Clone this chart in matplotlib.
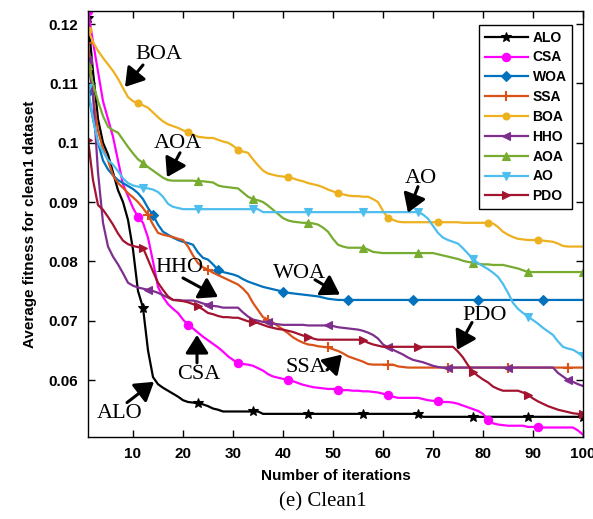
import matplotlib
matplotlib.use("Agg")
import numpy as np
from matplotlib import pyplot as plt
from matplotlib.ticker import FormatStrFormatter

plt.rcParams['font.family'] = ['Liberation Sans', 'DejaVu Sans']

iterations = np.arange(1, 101)

# average fitness per iteration
alo = [0.1210, 0.1120, 0.1040, 0.1000, 0.0980, 0.0950, 0.0920, 0.0900, 0.0870, 0.0820,
       0.0750, 0.0722, 0.0650, 0.0605, 0.0593, 0.0587, 0.0582, 0.0577, 0.0572, 0.0566,
       0.0563, 0.0562, 0.0561, 0.0559, 0.0556, 0.0552, 0.0550, 0.0547, 0.0547, 0.0547,
       0.0547, 0.0547, 0.0547, 0.0547, 0.0547, 0.0543, 0.0543, 0.0543, 0.0543, 0.0543,
       0.0543, 0.0543, 0.0543, 0.0543, 0.0543, 0.0543, 0.0543, 0.0543, 0.0543, 0.0543,
       0.0543, 0.0543, 0.0543, 0.0543, 0.0543, 0.0543, 0.0543, 0.0543, 0.0543, 0.0543,
       0.0543, 0.0543, 0.0543, 0.0543, 0.0543, 0.0543, 0.0543, 0.0538, 0.0538, 0.0538,
       0.0538, 0.0538, 0.0538, 0.0538, 0.0538, 0.0538, 0.0538, 0.0538, 0.0538, 0.0538,
       0.0538, 0.0538, 0.0538, 0.0538, 0.0538, 0.0538, 0.0538, 0.0538, 0.0538, 0.0538,
       0.0538, 0.0538, 0.0538, 0.0538, 0.0538, 0.0538, 0.0538, 0.0538, 0.0538, 0.0538]

csa = [0.1222, 0.1170, 0.1120, 0.1070, 0.1040, 0.1010, 0.0970, 0.0930, 0.0910, 0.0890,
       0.0875, 0.0865, 0.0840, 0.0800, 0.0757, 0.0740, 0.0728, 0.0720, 0.0713, 0.0702,
       0.0693, 0.0687, 0.0680, 0.0673, 0.0667, 0.0661, 0.0655, 0.0648, 0.0640, 0.0634,
       0.0629, 0.0627, 0.0626, 0.0624, 0.0620, 0.0616, 0.0610, 0.0606, 0.0604, 0.0602,
       0.0600, 0.0598, 0.0595, 0.0592, 0.0590, 0.0588, 0.0587, 0.0586, 0.0585, 0.0585,
       0.0584, 0.0583, 0.0583, 0.0582, 0.0582, 0.0581, 0.0581, 0.0580, 0.0579, 0.0577,
       0.0574, 0.0572, 0.0570, 0.0570, 0.0570, 0.0570, 0.0570, 0.0568, 0.0566, 0.0565,
       0.0564, 0.0563, 0.0563, 0.0562, 0.0560, 0.0557, 0.0554, 0.0551, 0.0548, 0.0543,
       0.0533, 0.0527, 0.0525, 0.0524, 0.0523, 0.0523, 0.0523, 0.0523, 0.0521, 0.0521,
       0.0521, 0.0520, 0.0520, 0.0520, 0.0520, 0.0520, 0.0520, 0.0520, 0.0515, 0.0508]

woa = [0.1085, 0.1040, 0.1000, 0.0970, 0.0955, 0.0945, 0.0937, 0.0932, 0.0927, 0.0922,
       0.0915, 0.0905, 0.0890, 0.0878, 0.0862, 0.0850, 0.0845, 0.0840, 0.0836, 0.0833,
       0.0831, 0.0828, 0.0815, 0.0806, 0.0803, 0.0795, 0.0786, 0.0782, 0.0780, 0.0778,
       0.0775, 0.0770, 0.0766, 0.0763, 0.0760, 0.0757, 0.0755, 0.0753, 0.0751, 0.0749,
       0.0747, 0.0746, 0.0745, 0.0744, 0.0743, 0.0742, 0.0741, 0.0739, 0.0737, 0.0736,
       0.0735, 0.0735, 0.0735, 0.0735, 0.0735, 0.0735, 0.0735, 0.0735, 0.0735, 0.0735,
       0.0735, 0.0735, 0.0735, 0.0735, 0.0735, 0.0735, 0.0735, 0.0735, 0.0735, 0.0735,
       0.0735, 0.0735, 0.0735, 0.0735, 0.0735, 0.0735, 0.0735, 0.0735, 0.0735, 0.0735,
       0.0735, 0.0735, 0.0735, 0.0735, 0.0735, 0.0735, 0.0735, 0.0735, 0.0735, 0.0735,
       0.0735, 0.0735, 0.0735, 0.0735, 0.0735, 0.0735, 0.0735, 0.0735, 0.0735, 0.0735]

ssa = [0.1168, 0.1080, 0.1020, 0.0990, 0.0970, 0.0945, 0.0932, 0.0924, 0.0915, 0.0908,
       0.0900, 0.0890, 0.0878, 0.0862, 0.0848, 0.0845, 0.0843, 0.0841, 0.0838, 0.0836,
       0.0825, 0.0810, 0.0797, 0.0790, 0.0786, 0.0781, 0.0777, 0.0773, 0.0769, 0.0765,
       0.0761, 0.0754, 0.0745, 0.0730, 0.0718, 0.0706, 0.0702, 0.0697, 0.0691, 0.0685,
       0.0679, 0.0672, 0.0667, 0.0663, 0.0660, 0.0659, 0.0657, 0.0656, 0.0655, 0.0652,
       0.0649, 0.0645, 0.0640, 0.0637, 0.0634, 0.0631, 0.0627, 0.0626, 0.0626, 0.0626,
       0.0626, 0.0626, 0.0623, 0.0622, 0.0621, 0.0621, 0.0621, 0.0621, 0.0621, 0.0621,
       0.0621, 0.0621, 0.0621, 0.0621, 0.0621, 0.0621, 0.0621, 0.0621, 0.0621, 0.0621,
       0.0621, 0.0621, 0.0621, 0.0621, 0.0621, 0.0621, 0.0621, 0.0621, 0.0621, 0.0621,
       0.0621, 0.0621, 0.0621, 0.0621, 0.0621, 0.0621, 0.0621, 0.0621, 0.0621, 0.0621]

boa = [0.1190, 0.1170, 0.1155, 0.1143, 0.1132, 0.1121, 0.1108, 0.1092, 0.1077, 0.1070,
       0.1067, 0.1063, 0.1059, 0.1051, 0.1043, 0.1036, 0.1031, 0.1028, 0.1025, 0.1021,
       0.1018, 0.1014, 0.1010, 0.1009, 0.1008, 0.1008, 0.1005, 0.1002, 0.1000, 0.0995,
       0.0988, 0.0985, 0.0983, 0.0972, 0.0962, 0.0953, 0.0948, 0.0946, 0.0944, 0.0943,
       0.0942, 0.0940, 0.0937, 0.0935, 0.0932, 0.0930, 0.0928, 0.0925, 0.0921, 0.0918,
       0.0915, 0.0913, 0.0911, 0.0910, 0.0910, 0.0909, 0.0909, 0.0905, 0.0900, 0.0885,
       0.0873, 0.0870, 0.0867, 0.0866, 0.0866, 0.0866, 0.0866, 0.0866, 0.0866, 0.0866,
       0.0866, 0.0866, 0.0866, 0.0866, 0.0866, 0.0865, 0.0865, 0.0865, 0.0865, 0.0865,
       0.0865, 0.0864, 0.0858, 0.0850, 0.0845, 0.0841, 0.0838, 0.0837, 0.0836, 0.0836,
       0.0836, 0.0835, 0.0834, 0.0833, 0.0830, 0.0826, 0.0825, 0.0825, 0.0825, 0.0825]

hho = [0.1140, 0.1080, 0.0950, 0.0865, 0.0825, 0.0808, 0.0795, 0.0780, 0.0764, 0.0759,
       0.0756, 0.0754, 0.0752, 0.0750, 0.0747, 0.0743, 0.0739, 0.0735, 0.0735, 0.0734,
       0.0734, 0.0734, 0.0732, 0.0729, 0.0727, 0.0725, 0.0724, 0.0722, 0.0722, 0.0722,
       0.0722, 0.0714, 0.0707, 0.0702, 0.0700, 0.0698, 0.0697, 0.0695, 0.0694, 0.0693,
       0.0693, 0.0693, 0.0693, 0.0693, 0.0692, 0.0692, 0.0692, 0.0692, 0.0692, 0.0691,
       0.0689, 0.0688, 0.0687, 0.0686, 0.0685, 0.0683, 0.0680, 0.0676, 0.0670, 0.0660,
       0.0655, 0.0651, 0.0647, 0.0643, 0.0638, 0.0634, 0.0632, 0.0630, 0.0627, 0.0624,
       0.0622, 0.0621, 0.0621, 0.0621, 0.0621, 0.0621, 0.0621, 0.0621, 0.0621, 0.0621,
       0.0621, 0.0621, 0.0621, 0.0621, 0.0621, 0.0621, 0.0621, 0.0621, 0.0621, 0.0621,
       0.0621, 0.0621, 0.0621, 0.0621, 0.0612, 0.0606, 0.0600, 0.0597, 0.0593, 0.0590]

aoa = [0.1131, 0.1100, 0.1070, 0.1045, 0.1027, 0.1021, 0.1017, 0.1005, 0.0993, 0.0982,
       0.0972, 0.0966, 0.0959, 0.0953, 0.0947, 0.0941, 0.0937, 0.0936, 0.0936, 0.0936,
       0.0936, 0.0936, 0.0935, 0.0935, 0.0934, 0.0933, 0.0928, 0.0926, 0.0925, 0.0924,
       0.0923, 0.0916, 0.0909, 0.0905, 0.0903, 0.0900, 0.0894, 0.0887, 0.0880, 0.0873,
       0.0869, 0.0867, 0.0866, 0.0865, 0.0865, 0.0864, 0.0862, 0.0857, 0.0850, 0.0838,
       0.0828, 0.0825, 0.0823, 0.0823, 0.0823, 0.0823, 0.0820, 0.0816, 0.0815, 0.0814,
       0.0814, 0.0814, 0.0814, 0.0814, 0.0814, 0.0814, 0.0814, 0.0814, 0.0814, 0.0814,
       0.0812, 0.0810, 0.0808, 0.0806, 0.0804, 0.0801, 0.0799, 0.0798, 0.0796, 0.0795,
       0.0795, 0.0794, 0.0794, 0.0794, 0.0792, 0.0790, 0.0788, 0.0785, 0.0782, 0.0782,
       0.0782, 0.0782, 0.0782, 0.0782, 0.0782, 0.0782, 0.0782, 0.0782, 0.0782, 0.0782]

ao = [0.1092, 0.1040, 0.1000, 0.0985, 0.0971, 0.0963, 0.0952, 0.0940, 0.0932, 0.0928,
      0.0926, 0.0924, 0.0923, 0.0921, 0.0917, 0.0909, 0.0897, 0.0892, 0.0890, 0.0888,
      0.0888, 0.0888, 0.0888, 0.0888, 0.0888, 0.0888, 0.0888, 0.0888, 0.0888, 0.0888,
      0.0888, 0.0888, 0.0888, 0.0888, 0.0888, 0.0883, 0.0883, 0.0883, 0.0883, 0.0883,
      0.0883, 0.0883, 0.0883, 0.0883, 0.0883, 0.0883, 0.0883, 0.0883, 0.0883, 0.0883,
      0.0883, 0.0883, 0.0883, 0.0883, 0.0883, 0.0883, 0.0883, 0.0883, 0.0883, 0.0883,
      0.0883, 0.0883, 0.0883, 0.0883, 0.0883, 0.0883, 0.0883, 0.0879, 0.0872, 0.0860,
      0.0848, 0.0840, 0.0836, 0.0833, 0.0830, 0.0822, 0.0813, 0.0804, 0.0797, 0.0792,
      0.0787, 0.0781, 0.0774, 0.0762, 0.0747, 0.0730, 0.0720, 0.0713, 0.0707, 0.0701,
      0.0695, 0.0688, 0.0682, 0.0676, 0.0665, 0.0656, 0.0653, 0.0651, 0.0646, 0.0640]

pdo = [0.1005, 0.0937, 0.0895, 0.0887, 0.0875, 0.0862, 0.0847, 0.0835, 0.0829, 0.0826,
       0.0824, 0.0823, 0.0803, 0.0783, 0.0764, 0.0752, 0.0741, 0.0735, 0.0734, 0.0733,
       0.0731, 0.0728, 0.0724, 0.0719, 0.0713, 0.0711, 0.0708, 0.0706, 0.0706, 0.0705,
       0.0705, 0.0702, 0.0699, 0.0698, 0.0696, 0.0693, 0.0690, 0.0688, 0.0686, 0.0685,
       0.0683, 0.0681, 0.0678, 0.0675, 0.0673, 0.0670, 0.0668, 0.0668, 0.0668, 0.0668,
       0.0668, 0.0668, 0.0668, 0.0668, 0.0668, 0.0667, 0.0663, 0.0660, 0.0658, 0.0656,
       0.0656, 0.0656, 0.0656, 0.0656, 0.0656, 0.0656, 0.0656, 0.0656, 0.0656, 0.0656,
       0.0656, 0.0656, 0.0656, 0.0656, 0.0648, 0.0638, 0.0625, 0.0614, 0.0607, 0.0601,
       0.0596, 0.0589, 0.0585, 0.0582, 0.0582, 0.0582, 0.0582, 0.0579, 0.0575, 0.0569,
       0.0564, 0.0560, 0.0556, 0.0553, 0.0550, 0.0548, 0.0546, 0.0544, 0.0543, 0.0542]

names = ['ALO', 'CSA', 'WOA', 'SSA', 'BOA', 'HHO', 'AOA', 'AO', 'PDO']
series = [alo, csa, woa, ssa, boa, hho, aoa, ao, pdo]

# matlab default-ish colours
colors = ['k', '#FF00FF', '#0072BD', '#D95319', '#EDB120', '#7E2F8E', '#77AC30', '#4DBEEE', '#A2142F']
markers = ['*', 'o', 'D', '+', 'o', '<', '^', 'v', '>']
msizes = [7, 6, 5, 7, 5, 6, 6, 6, 6]
mark_step = [11, 10, 13, 12, 10, 12, 11, 11, 11]

# label text (x, y) and arrow (tail -> tip) in data coords
labels = ['BOA', 'AOA', 'AO', 'HHO', 'WOA', 'CSA', 'ALO', 'SSA', 'PDO']
label_xy = [(15.2, 0.1148), (19.0, 0.0998), (67.6, 0.0939), (19.2, 0.0789), (43.4, 0.0779),
            (23.2, 0.0609), (7.4, 0.0543), (44.6, 0.0621), (80.4, 0.0708)]
arrow_tail = [(12.0, 0.1131), (19.4, 0.0983), (67.0, 0.0926), (20.0, 0.0772), (46.4, 0.0769),
              (22.8, 0.0629), (8.8, 0.0562), (48.8, 0.0617), (77.8, 0.0697)]
arrow_tip = [(8.4, 0.1094), (16.8, 0.0942), (65.0, 0.0882), (27.0, 0.0740), (51.4, 0.0744),
             (22.8, 0.0676), (14.2, 0.0597), (51.8, 0.0643), (74.8, 0.0651)]

fig = plt.figure(figsize=(5.93, 5.19), dpi=100)
ax = fig.add_axes([0.1484, 0.158, 0.8347, 0.8208])

for name, y, c, m, ms, st in zip(names, series, colors, markers, msizes, mark_step):
    ax.plot(iterations, y, color=c, lw=1.6, marker=m, markersize=ms, markevery=st,
            markeredgewidth=1.5 if m == '+' else 0.8, label=name)

for txt, pos, tail, tip in zip(labels, label_xy, arrow_tail, arrow_tip):
    ax.text(pos[0], pos[1], txt, ha='center', va='center', fontsize=16,
            family=['Liberation Serif', 'DejaVu Serif'])
    ax.annotate('', xy=tip, xytext=tail,
                arrowprops=dict(arrowstyle='-|>,head_length=0.55,head_width=0.35',
                                color='k', lw=2.2, mutation_scale=20, shrinkA=0, shrinkB=0))

ax.set_xlim(1, 100)
ax.set_ylim(0.0504, 0.1222)
ax.set_xticks(np.arange(10, 101, 10))
ax.set_yticks([0.06, 0.07, 0.08, 0.09, 0.10, 0.11, 0.12])
ax.yaxis.set_major_formatter(FormatStrFormatter('%g'))
ax.tick_params(direction='in', top=True, right=True, length=5, width=1, labelsize=11, pad=7)
for lab in ax.get_xticklabels() + ax.get_yticklabels():
    lab.set_fontweight('bold')
for sp in ax.spines.values():
    sp.set_linewidth(1)

ax.set_xlabel('Number of iterations', fontsize=11, fontweight='bold', labelpad=6)
ax.set_ylabel('Average fitness for clean1 dataset', fontsize=11, fontweight='bold', labelpad=8)

leg = ax.legend(loc='upper right', bbox_to_anchor=(0.978, 0.967), borderaxespad=0,
                prop={'weight': 'bold', 'size': 10}, handlelength=3.1, handletextpad=0.35,
                labelspacing=0.42, borderpad=0.4, fancybox=False, framealpha=1)
leg.get_frame().set_edgecolor('k')
leg.get_frame().set_linewidth(1)

fig.text(323 / 593, 1 - 502 / 519, '(e) Clean1', ha='center', va='center', fontsize=15,
         family=['Liberation Serif', 'DejaVu Serif'])

fig.savefig('out.png', dpi=100)
